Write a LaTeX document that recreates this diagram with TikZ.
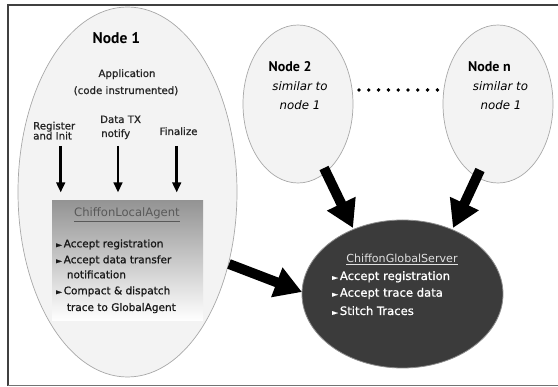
\documentclass[tikz,border=0pt]{standalone}
\usepackage{fontspec}
\setmainfont{DejaVu Sans}
\newfontfamily\medfont{DejaVu Sans}[FakeBold=0.9]
\newfontfamily\titlefont{PT Sans}
\usetikzlibrary{shapes.geometric,arrows.meta}
\newcommand{\bul}{{\fontsize{7.5}{7.5}\selectfont ►}}
\definecolor{ellfill}{HTML}{F3F3F3}
\definecolor{ellline}{HTML}{A8A8A8}
\definecolor{darkfill}{HTML}{3B3B3B}
\tikzset{
  nodeell/.style={ellipse, draw=ellline, fill=ellfill, line width=0.7pt, inner sep=0pt},
  bigarrow/.style={line width=10pt, -{Triangle[length=27pt,width=30pt]}},
  smallarrow/.style={line width=2.6pt, -{Triangle[length=10pt,width=8.5pt]}},
  lbl/.style={font=\medfont\fontsize{10.2}{10.2}\selectfont, text=black!85, inner sep=0pt},
  ttl/.style={font=\titlefont\bfseries, inner sep=0pt, anchor=base west},
  sim/.style={font=\fontsize{11.8}{11.8}\selectfont\itshape, inner sep=0pt, anchor=base},
  lbt/.style={font=\medfont\fontsize{10.5}{10.5}\selectfont, text=black!90, inner sep=0pt, anchor=base west},
  gbt/.style={font=\medfont\fontsize{11.6}{11.6}\selectfont, text=white, inner sep=0pt, anchor=base west},
}
\begin{document}
\begin{tikzpicture}[x=1pt,y=-1pt]
\useasboundingbox (0,0) rectangle (558,387);
% frame
\draw[line width=2pt, black!75] (8,386) -- (8,5) -- (558,5);
\draw[line width=1.5pt, black!55] (8,385.5) -- (558,385.5);

% ellipses
\node[nodeell, minimum width=219pt, minimum height=370pt] (n1) at (127.5,192) {};
\node[nodeell, minimum width=110pt, minimum height=158pt] (n2) at (298,104) {};
\node[nodeell, minimum width=110pt, minimum height=158pt] (nn) at (498,104) {};
\node[ellipse, draw=black!45, fill=darkfill, line width=0.8pt, minimum width=201pt, minimum height=148pt, inner sep=0pt] (gs) at (402.5,294) {};

% node 1 texts
\node[ttl, font=\titlefont\bfseries\fontsize{15.5}{15.5}\selectfont] (t1) at (92.5,44) {Node 1};
\node[lbl, anchor=base] (app) at (127,77) {Application};
\node[lbl, anchor=base] (code) at (126,94) {(code instrumented)};
\node[lbl, anchor=base west] (reg1) at (33,129.5) {Register};
\node[lbl, anchor=base west] (reg2) at (33,139.5) {and Init};
\node[lbl, anchor=base west] (dtx1) at (100,123) {Data TX};
\node[lbl, anchor=base west] (dtx2) at (101,137) {notify};
\node[lbl, anchor=base] (fin) at (178.5,135) {Finalize};
\coordinate (a1s) at (60.7,146); \coordinate (a1e) at (60.7,192.5);
\coordinate (a2s) at (118,146); \coordinate (a2e) at (118,192.5);
\coordinate (a3s) at (176.7,146); \coordinate (a3e) at (176.7,192.5);
\draw[smallarrow] (a1s) -- (a1e);
\draw[smallarrow] (a2s) -- (a2e);
\draw[smallarrow] (a3s) -- (a3e);

% local agent box
\node[rectangle, top color=black!42, bottom color=white, minimum width=151pt, minimum height=120pt, inner sep=0pt] (la) at (127.5,261) {};
\node[font=\fontsize{11.6}{11.6}\selectfont, text=black!65, inner sep=0pt, anchor=base] (lat) at (127,217) {\underline{ChiffonLocalAgent}};
\node[lbt] (lb1) at (56,247.3) {\bul\,Accept registration};
\node[lbt] (lb2) at (56,263.3) {\bul\,Accept data transfer};
\node[lbt] (lb3) at (66.7,278.3) {notification};
\node[lbt] (lb4) at (56,294.3) {\bul\,Compact \& dispatch};
\node[lbt] (lb5) at (66.7,311) {trace to GlobalAgent};

% node 2 / node n texts
\node[ttl, font=\titlefont\bfseries\fontsize{14}{14}\selectfont] (t2) at (268.5,72) {Node 2};
\node[sim] (s2a) at (300,91) {similar to};
\node[sim] (s2b) at (300,110) {node 1};
\node[ttl, font=\titlefont\bfseries\fontsize{14}{14}\selectfont] (tn) at (468,72) {Node n};
\node[sim] (sna) at (500.5,91) {similar to};
\node[sim] (snb) at (501,110) {node 1};

% dots
\foreach \i in {0,...,8} {\fill (359+\i*9.8,90) circle (1.9pt);}

% global server texts
\node[font=\fontsize{11.1}{11.1}\selectfont, text=black!12, inner sep=0pt, anchor=base] (gst) at (402,262.7) {\underline{ChiffonGlobalServer}};
\node[gbt] (gb1) at (332,280) {\bul\,Accept registration};
\node[gbt] (gb2) at (332,296.7) {\bul\,Accept trace data};
\node[gbt] (gb3) at (332,315) {\bul\,Stitch Traces};

% big arrows
\coordinate (b1s) at (229,264);
\coordinate (b1e) at (302,292);
\coordinate (b2s) at (324,168);
\coordinate (b2e) at (353,228);
\coordinate (b3s) at (480,170);
\coordinate (b3e) at (453,228);
\draw[bigarrow] (b1s) -- (b1e);
\draw[bigarrow] (b2s) -- (b2e);
\draw[bigarrow] (b3s) -- (b3e);
\end{tikzpicture}
\end{document}
